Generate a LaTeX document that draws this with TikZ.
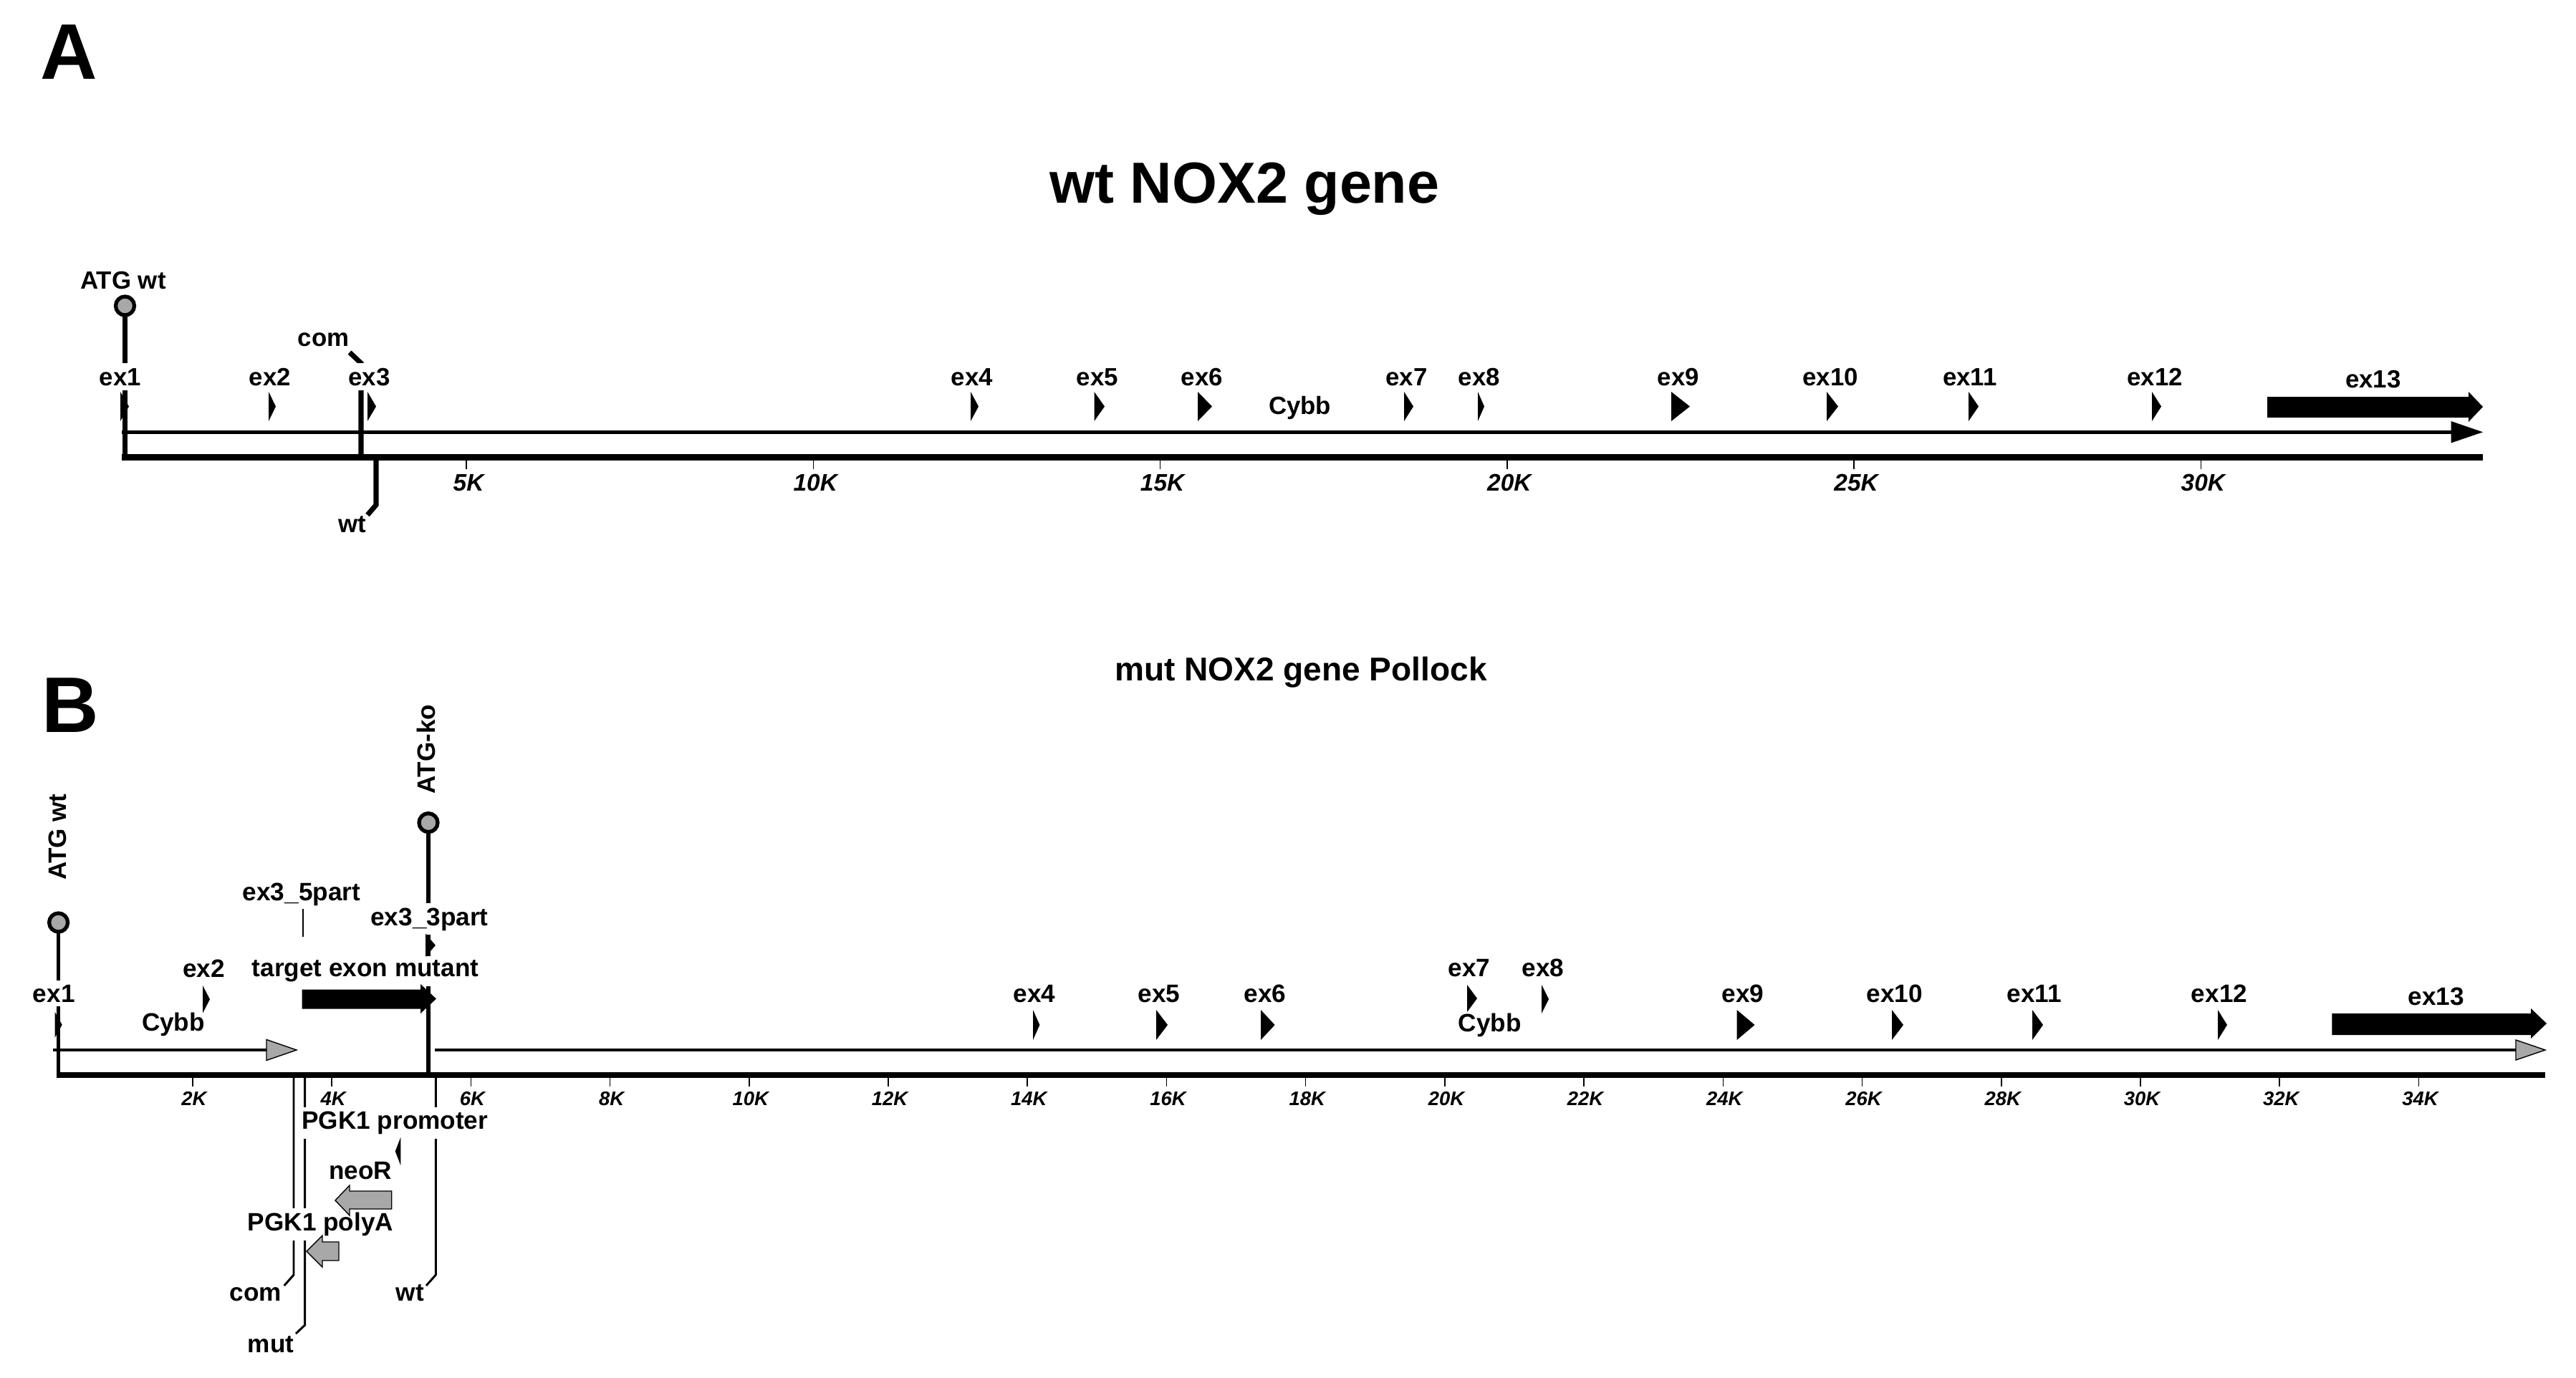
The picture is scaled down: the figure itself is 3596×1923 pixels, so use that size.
\documentclass[tikz,border=0pt]{standalone}
\usepackage{fontspec}
\setmainfont{Liberation Sans}
\newfontfamily\plainsf{Liberation Sans}
\definecolor{cgray}{gray}{0.66}
\newcommand\exon[4]{\fill (#1,#3) -- (#2,{(#3+#4)/2}) -- (#1,#4) -- cycle;}
\newcommand\blockarrow[8]{\path[#8] (#1,#4) -- (#2,#4) -- (#2,#6) -- (#3,{(#6+#7)/2}) -- (#2,#7) -- (#2,#5) -- (#1,#5) -- cycle;}
\tikzset{
  every node/.style={inner sep=0pt, outer sep=0pt},
  panel/.style={font=\plainsf\bfseries\fontsize{31.3}{33}\selectfont, anchor=base west},
  titleA/.style={font=\bfseries\fontsize{23}{26}\selectfont, anchor=base},
  titleB/.style={font=\bfseries\fontsize{13.1}{15}\selectfont, anchor=base},
  labA/.style={font=\bfseries\fontsize{9.9}{11}\selectfont, anchor=base},
  labB/.style={font=\bfseries\fontsize{10}{11}\selectfont, anchor=base},
  gapA/.style={fill=white, inner xsep=1pt, inner ysep=2pt},
  gapB/.style={fill=white, inner xsep=1pt, inner ysep=1.7pt},
  tickA/.style={font=\plainsf\bfseries\itshape\fontsize{9.5}{10}\selectfont, anchor=base},
  tickB/.style={font=\plainsf\bfseries\itshape\fontsize{7.8}{9}\selectfont, anchor=base},
  tickln/.style={line width=0.45pt},
  axisln/.style={line width=2.3pt},
  stemA/.style={line width=2pt},
  stemB/.style={line width=1.6pt},
  primB/.style={line width=0.85pt},
  atg/.style={circle, draw=black, fill=cgray, line width=1.5pt, minimum size=0.26cm},
  grayarr/.style={fill=cgray, draw=black, line width=0.4pt},
}
\begin{document}
\begin{tikzpicture}[x=0.01cm, y=-0.01cm]
\path[use as bounding box] (0,0) rectangle (3596,1923);

%================ Panel A ================
\node[panel] (lA) at (56,110) {A};
\node[titleA] (tA) at (1737.5,283) {wt NOX2 gene};

\coordinate (A-ax0) at (170,638.5);
\coordinate (A-ax1) at (3466,638.5);
\draw[axisln] (A-ax0) -- (A-ax1);
\coordinate (A-up0) at (170,603.3);
\coordinate (A-up1) at (3424,603.3);
\coordinate (A-tip) at (3466,603.3);
\draw[line width=1.45pt] (A-up0) -- (A-up1);
\fill (3421.5,588) -- (A-tip) -- (3421.5,618.5) -- cycle;

\foreach \k in {5,10,...,30} {
  \pgfmathsetmacro\xx{166.8+96.85*\k}
  \draw[tickln] (\xx,642) -- (\xx,655);
  \node[tickA] (tkA\k) at (\xx+3,685) {\k K};
}

% ATG wt
\node[atg] (A-atg) at (174.5,427) {};
\coordinate (A-atgb) at (174.5,642);
\draw[stemA] (A-atg) -- (A-atgb);
\node[labA] (A-atgL) at (172,403) {ATG wt};

% primers
\coordinate (A-com0) at (504,642);
\coordinate (A-com1) at (504,507);
\coordinate (A-com2) at (488,492);
\draw[stemA] (A-com0) -- (A-com1) -- (A-com2);
\node[labA] (A-comL) at (451.5,483) {com};
\coordinate (A-wt0) at (525,635);
\coordinate (A-wt1) at (525,705);
\coordinate (A-wt2) at (513,719);
\draw[stemA] (A-wt0) -- (A-wt1) -- (A-wt2);
\node[labA] (A-wtL) at (492,743) {wt};

% exon labels
\node[labA,gapA] (A-e1) at (168,538) {ex1};
\node[labA] (A-e2) at (377,538) {ex2};
\node[labA,gapA] (A-e3) at (515.5,538) {ex3};
\node[labA] (A-e4) at (1357,538) {ex4};
\node[labA] (A-e5) at (1531.7,538) {ex5};
\node[labA] (A-e6) at (1678,538) {ex6};
\node[labA] (A-e7) at (1963.4,538) {ex7};
\node[labA] (A-e8) at (2064.8,538) {ex8};
\node[labA] (A-e9) at (2343,538) {ex9};
\node[labA] (A-e10) at (2555,538) {ex10};
\node[labA] (A-e11) at (2750,538) {ex11};
\node[labA] (A-e12) at (3008,538) {ex12};
\node[labA] (A-e13) at (3312.8,541.7) {ex13};
\node[labA] (A-cybb) at (1814.5,578.5) {Cybb};

% exon markers
\exon{168}{180}{547}{588}
\exon{375}{385}{547}{588}
\exon{513}{525}{547}{588}
\exon{1355}{1366}{547}{588}
\exon{1527.5}{1542}{547}{588}
\exon{1672}{1692}{547}{588}
\exon{1960}{1973}{547}{588}
\exon{2063}{2072}{547}{588}
\exon{2333}{2359}{547}{588}
\exon{2550}{2566}{547}{588}
\exon{2748}{2762}{547}{588}
\exon{3004}{3017}{547}{588}
\blockarrow{3165}{3446}{3466}{554}{583}{547}{589}{fill=black}

%================ Panel B ================
\node[panel] (lB) at (58,1022) {B};
\node[titleB] (tB) at (1816,950) {mut NOX2 gene Pollock};

\coordinate (B-ax0) at (79,1501);
\coordinate (B-ax1) at (3553,1501);
\draw[axisln] (B-ax0) -- (B-ax1);

% transcript lines
\coordinate (B-l1a) at (74,1466);
\coordinate (B-l1b) at (373,1466);
\draw[line width=1pt] (B-l1a) -- (B-l1b);
\path[grayarr] (372,1451.5) -- (414,1466) -- (372,1480.5) -- cycle;
\coordinate (B-l2a) at (607,1466);
\coordinate (B-l2b) at (3513,1466);
\draw[line width=1pt] (B-l2a) -- (B-l2b);
\path[grayarr] (3512,1452) -- (3553,1466) -- (3512,1480) -- cycle;

\foreach \k in {2,4,...,34} {
  \pgfmathsetmacro\xx{74.7+97.11*\k}
  \draw[tickln] (\xx,1505) -- (\xx,1517);
  \node[tickB] (tkB\k) at (\xx+2,1543) {\k K};
}

% ATG wt
\node[atg] (B-atg) at (81.6,1288) {};
\coordinate (B-atgb) at (81.6,1505);
\draw[stemB] (B-atg) -- (B-atgb);
\node[labB, rotate=90] (B-atgL) at (92,1168.5) {ATG wt};

% ATG-ko
\node[atg] (B-ko) at (598,1148.6) {};
\coordinate (B-kob) at (598,1505);
\draw[stemB] (B-ko) -- (B-kob);
\node[labB, rotate=90] (B-koL) at (607,1046) {ATG-ko};

% ex3_5part
\node[labB] (B-e35) at (421,1257) {ex3\_5part};
\coordinate (B-e35a) at (423,1269);
\coordinate (B-e35b) at (423,1308);
\draw[line width=0.45pt] (B-e35a) -- (B-e35b);

% primers below axis
\coordinate (B-com0) at (410,1505);
\coordinate (B-com1) at (410,1780);
\coordinate (B-com2) at (396.7,1795);
\draw[primB] (B-com0) -- (B-com1) -- (B-com2);
\node[labB] (B-comL) at (356.7,1816.7) {com};
\coordinate (B-mut0) at (425.7,1505);
\coordinate (B-mut1) at (425.7,1850);
\coordinate (B-mut2) at (413,1862);
\draw[primB] (B-mut0) -- (B-mut1) -- (B-mut2);
\node[labB] (B-mutL) at (378,1888.3) {mut};
\coordinate (B-wt0) at (608.3,1505);
\coordinate (B-wt1) at (608.3,1780);
\coordinate (B-wt2) at (595,1795);
\draw[primB] (B-wt0) -- (B-wt1) -- (B-wt2);
\node[labB] (B-wtL) at (572.5,1816.7) {wt};

% labels
\node[labB,gapB] (B-e1) at (75.3,1399) {ex1};
\node[labB] (B-e2) at (284.4,1364) {ex2};
\node[labB] (B-cy1) at (242,1439.5) {Cybb};
\node[labB,gapB] (B-e33) at (599.5,1292) {ex3\_3part};
\node[labB,gapB] (B-tgt) at (510,1363.5) {target exon mutant};
\node[labB] (B-e4) at (1443.8,1399.3) {ex4};
\node[labB] (B-e5) at (1618,1399.3) {ex5};
\node[labB] (B-e6) at (1766,1399.3) {ex6};
\node[labB] (B-e7) at (2051,1363) {ex7};
\node[labB] (B-e8) at (2154,1363) {ex8};
\node[labB] (B-cy2) at (2079.6,1440) {Cybb};
\node[labB] (B-e9) at (2432.8,1399.3) {ex9};
\node[labB] (B-e10) at (2644.6,1399.3) {ex10};
\node[labB] (B-e11) at (2840,1399.3) {ex11};
\node[labB] (B-e12) at (3098,1399.3) {ex12};
\node[labB] (B-e13) at (3400.6,1403) {ex13};
\node[labB,gapB] (B-pro) at (551.3,1576.7) {PGK1 promoter};
\node[labB] (B-neo) at (503.3,1646.7) {neoR};
\node[labB,gapB] (B-pA) at (447.5,1718.3) {PGK1 polyA};

% markers
\exon{76.5}{86.7}{1412.6}{1449}
\exon{283}{293}{1376}{1414.5}
\exon{594}{608}{1303.6}{1336}
\blockarrow{421.5}{587}{609}{1381.5}{1408.5}{1374}{1415}{fill=black}
\exon{1442}{1451.4}{1410}{1452}
\exon{1614}{1630}{1410}{1452}
\exon{1760}{1779.6}{1410}{1452}
\exon{2048}{2062}{1375}{1413}
\exon{2152}{2162}{1375}{1415}
\exon{2424.6}{2449.5}{1410}{1452}
\exon{2641}{2657}{1410}{1452}
\exon{2837}{2852}{1410}{1452}
\exon{3096}{3109}{1410}{1452}
\blockarrow{3255.3}{3533}{3555}{1415}{1445}{1408}{1450}{fill=black}

% cassette features
\exon{559.3}{551.7}{1588}{1627}
\blockarrow{546.7}{488}{468}{1663}{1688}{1655}{1697}{grayarr}
\blockarrow{473}{450}{428}{1734}{1760}{1725}{1769}{grayarr}
\end{tikzpicture}
\end{document}
